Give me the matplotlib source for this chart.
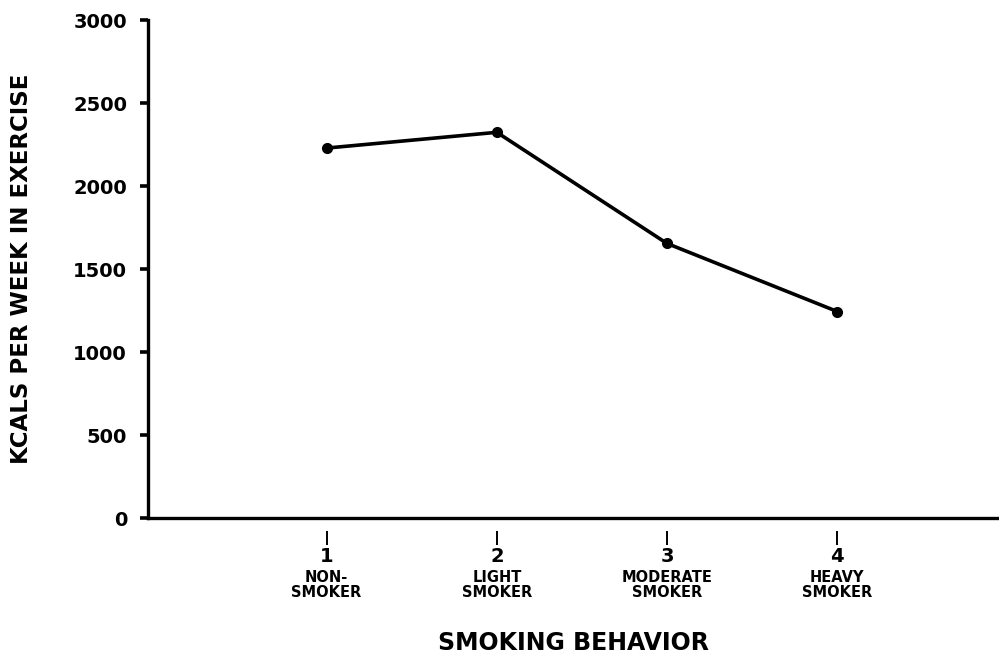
import matplotlib
matplotlib.use("Agg")
import matplotlib.pyplot as plt

# data
behavior = [1, 2, 3, 4]
behavior_names = ["NON-\nSMOKER", "LIGHT\nSMOKER", "MODERATE\nSMOKER", "HEAVY\nSMOKER"]
kcals = [2230, 2325, 1655, 1245]
y_ticks = [0, 500, 1000, 1500, 2000, 2500, 3000]

plt.rcParams["font.family"] = ["DejaVu Sans"]
plt.rcParams["font.weight"] = "bold"

fig = plt.figure(figsize=(9.99, 6.55), dpi=100)
ax = fig.add_axes([0.148, 0.209, 0.852, 0.760])

ax.plot(behavior, kcals, color="black", lw=2.6, marker="o", markersize=7,
        solid_joinstyle="round", zorder=3)

ax.set_xlim(-0.05, 4.95)
ax.set_ylim(0, 3000)

for side in ("top", "right"):
    ax.spines[side].set_visible(False)
ax.spines["left"].set_linewidth(2.4)
ax.spines["left"].set_bounds(0, 3000)

# x-axis line drawn at 0, ticks sit a little below it (detached)
ax.spines["bottom"].set_visible(False)
ax.spines["bottom"].set_position(("outward", 9))
ax.axhline(0, color="black", lw=2.4, clip_on=False, zorder=2)

ax.set_yticks(y_ticks)
ax.set_yticklabels([str(v) for v in y_ticks], fontsize=14, fontweight="bold")
ax.tick_params(axis="y", direction="out", length=6, width=2.6, pad=9)

ax.set_xticks(behavior)
ax.set_xticklabels([str(b) for b in behavior], fontsize=14, fontweight="bold")
ax.tick_params(axis="x", direction="out", length=10, width=1.4, pad=2)

for b, name in zip(behavior, behavior_names):
    ax.annotate(name, xy=(b, 0), xycoords=("data", "axes fraction"),
                xytext=(0, -37.5), textcoords="offset points",
                ha="center", va="top", fontsize=10.5, fontweight="bold",
                linespacing=0.95)

ax.set_xlabel("SMOKING BEHAVIOR", fontsize=17, fontweight="bold")
ax.xaxis.set_label_coords(0.5, -0.226)
ax.set_ylabel("KCALS PER WEEK IN EXERCISE", fontsize=16.5, fontweight="bold")
ax.yaxis.set_label_coords(-0.135, 0.5)

fig.savefig("out.png", dpi=100)
